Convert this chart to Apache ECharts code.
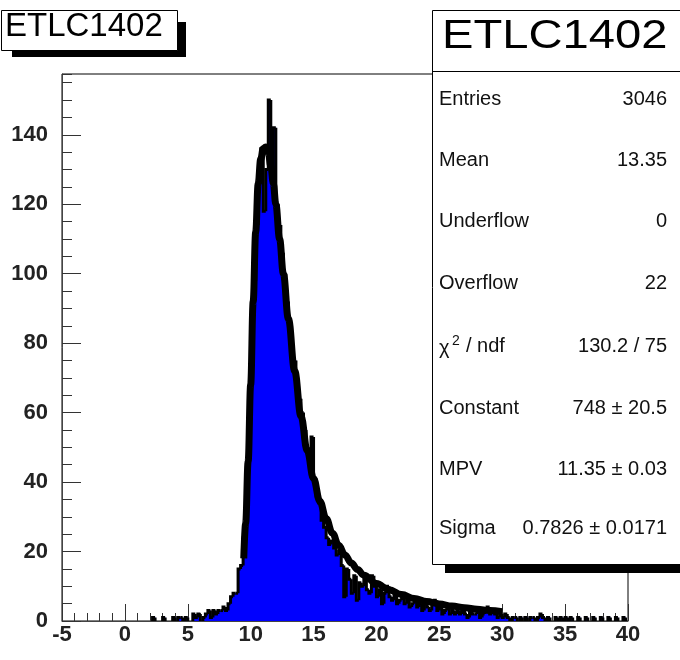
<!DOCTYPE html>
<html>
<head>
<meta charset="utf-8">
<script src="https://cdn.jsdelivr.net/npm/echarts@6/dist/echarts.min.js"></script>
<style>
  html, body { margin: 0; padding: 0; background: #fff; }
  #chart { width: 680px; height: 660px; }
</style>
</head>
<body>
<div id="chart"></div>
<script>
// Histogram: bins of width 0.2 from -5 to 40
const binMin = -5;
const binWidth = 0.2;
const counts = [
  0,0,0,0,0, 0,0,0,0,0,
  0,0,0,0,0, 0,0,0,0,0,
  0,0,0,0,0, 0,0,0,0,0,
  0,0,0,0,0, 0,1,0,0,0,
  1,0,0,0,1, 0,1,1,0,1,
  0,0,2,1,2, 0,1,2,3,1,
  3,2,3,3,4, 3,5,7,8,8,
  15,16,24,38,58, 80,98,114,126,136,
  118,130,150,128,142, 120,114,106,100,92,
  86,78,75,68,64, 60,55,50,46,53,
  41,36,34,29,27, 24,22,23,21,19,
  20,16,7,15,12, 8,13,6,11,10,
  12,9,8,13,10, 7,9,5,8,10,
  7,6,8,5,6, 7,5,6,4,5,
  6,4,5,3,5, 4,3,5,6,3,
  4,2,3,4,2, 3,2,3,2,3,
  2,1,3,2,2, 3,1,2,3,4,
  2,3,2,1,2, 1,2,1,0,1,
  1,0,1,0,1, 0,1,1,0,1,
  2,1,0,1,0, 0,1,0,1,0,
  1,0,1,0,0, 1,0,0,1,0,
  0,1,0,0,1, 0,0,1,0,0,
  1,0,0,1,0
];

// Landau fit curve
const fitX = [9.45, 9.6, 9.8, 10.0, 10.2, 10.4, 10.6, 10.8, 11.0, 11.2, 11.4, 11.6, 11.8, 12.0, 12.3, 12.6, 13.0, 13.5, 14.0, 14.5, 15.0, 15.5, 16.0, 16.5, 17.0, 17.5, 18.0, 18.5, 19.0, 20.0, 21.0, 22.0, 23.0, 24.0, 25.0, 26.0, 27.0, 28.0, 29.0, 30.0];
const fitY = [18, 28, 46, 68, 92, 112, 126, 133, 136, 136.5, 135, 131, 126, 120, 110, 100, 87, 72, 59, 49, 41, 34.5, 29.5, 25.3, 21.8, 19, 16.7, 14.8, 13.2, 10.8, 9, 7.6, 6.5, 5.6, 4.9, 4.3, 3.8, 3.4, 3.0, 2.7];

// Axis ticks
const xMin = -5, xMax = 40, xInterval = 5;
const yMin = 0, yMax = 157.5, yInterval = 20, yMinorInterval = 5;

// Stats box
const histName = 'ETLC1402';
const statLabels = ['Entries', 'Mean', 'Underflow', 'Overflow', 'CHI', 'Constant', 'MPV', 'Sigma'];
const statValues = ['3046', '13.35', '0', '22', '130.2 / 75', '748 ± 20.5', '11.35 ± 0.03', '0.7826 ± 0.0171'];

const histData = counts.map((c, i) => [binMin + i * binWidth, c, i > 0 ? counts[i - 1] : 0]);
const fitData = fitX.map((x, i) => [x, fitY[i]]);

const FONT = '"Liberation Sans", Arial, sans-serif';
const chart = echarts.init(document.getElementById('chart'), null, { renderer: 'canvas' });

const statRowsY = [99, 160, 221, 283, 346, 408, 469, 528];
const TXT = '#111';
const graphics = [];
// title box (top-left)
graphics.push({ type: 'rect', z: 100, shape: { x: 12, y: 50, width: 174, height: 7 }, style: { fill: '#000' } });
graphics.push({ type: 'rect', z: 100, shape: { x: 177, y: 22, width: 9, height: 35 }, style: { fill: '#000' } });
graphics.push({ type: 'rect', z: 101, shape: { x: 1.5, y: 10.5, width: 176, height: 40 }, style: { fill: '#fff', stroke: '#000', lineWidth: 1 } });
graphics.push({ type: 'text', z: 102, x: 5, y: 27, style: { text: histName, font: '33px ' + FONT, fill: '#000', align: 'left', verticalAlign: 'middle', textAlign: 'left', textVerticalAlign: 'middle' } });
// stats box
graphics.push({ type: 'rect', z: 100, shape: { x: 445, y: 565, width: 245, height: 8 }, style: { fill: '#000' } });
graphics.push({ type: 'rect', z: 101, shape: { x: 432.5, y: 10.5, width: 260, height: 554 }, style: { fill: '#fff', stroke: '#000', lineWidth: 1 } });
graphics.push({ type: 'line', z: 102, shape: { x1: 432.5, y1: 71.5, x2: 680, y2: 71.5 }, style: { stroke: '#000', lineWidth: 1 } });
graphics.push({ type: 'text', z: 102, x: 442, y: 37, scaleX: 1.15, style: { text: histName, font: '41px ' + FONT, fill: '#000', align: 'left', verticalAlign: 'middle', textAlign: 'left', textVerticalAlign: 'middle' } });
statLabels.forEach((lab, i) => {
  const y = statRowsY[i];
  if (lab === 'CHI') {
    graphics.push({ type: 'text', z: 102, x: 439, y: y + 2, style: { text: 'χ', font: '20px ' + FONT, fill: TXT, align: 'left', verticalAlign: 'middle', textAlign: 'left', textVerticalAlign: 'middle' } });
    graphics.push({ type: 'text', z: 102, x: 452, y: y - 5, style: { text: '2', font: '14px ' + FONT, fill: TXT, align: 'left', verticalAlign: 'middle', textAlign: 'left', textVerticalAlign: 'middle' } });
    graphics.push({ type: 'text', z: 102, x: 466, y: y, style: { text: '/ ndf', font: '20px ' + FONT, fill: TXT, align: 'left', verticalAlign: 'middle', textAlign: 'left', textVerticalAlign: 'middle' } });
  } else {
    graphics.push({ type: 'text', z: 102, x: 439, y: y, style: { text: lab, font: '20px ' + FONT, fill: TXT, align: 'left', verticalAlign: 'middle', textAlign: 'left', textVerticalAlign: 'middle' } });
  }
  graphics.push({ type: 'text', z: 102, x: 667, y: y, style: { text: statValues[i], font: '20px ' + FONT, fill: TXT, align: 'right', verticalAlign: 'middle', textAlign: 'right', textVerticalAlign: 'middle' } });
});

const gridRect = { left: 62, top: 74, width: 566, height: 547 };
const axisColor = '#444';
const labelStyle = { fontSize: 22, fontFamily: FONT, fontWeight: 'bold', color: '#222' };

const option = {
  animation: false,
  backgroundColor: '#fff',
  grid: [
    Object.assign({ show: true, borderColor: '#000', borderWidth: 1, backgroundColor: 'transparent', containLabel: false, outerBoundsMode: 'none' }, gridRect),
    Object.assign({ show: false, containLabel: false, outerBoundsMode: 'none' }, gridRect)
  ],
  xAxis: [
    {
      gridIndex: 0, type: 'value', min: xMin, max: xMax, interval: xInterval,
      axisLine: { show: true, onZero: false, lineStyle: { color: axisColor, width: 1 } },
      axisTick: { show: true, inside: true, length: 17, lineStyle: { color: '#333', width: 1 } },
      minorTick: { show: true, splitNumber: 5, length: 8, lineStyle: { color: '#333', width: 1 } },
      axisLabel: Object.assign({ margin: 3 }, labelStyle),
      splitLine: { show: false }
    },
    { gridIndex: 1, type: 'value', min: xMin, max: xMax, show: false }
  ],
  yAxis: [
    {
      gridIndex: 0, type: 'value', min: yMin, max: yMax, interval: yInterval,
      axisLine: { show: true, onZero: false, lineStyle: { color: axisColor, width: 1 } },
      axisTick: { show: true, inside: true, length: 19, lineStyle: { color: '#333', width: 1 } },
      axisLabel: Object.assign({ margin: 14, showMaxLabel: false }, labelStyle),
      splitLine: { show: false }
    },
    {
      gridIndex: 1, type: 'value', min: yMin, max: yMax, interval: yMinorInterval, position: 'left',
      axisLine: { show: false, onZero: false },
      axisTick: { show: true, inside: true, length: 10, lineStyle: { color: '#333', width: 1 } },
      axisLabel: { show: false },
      splitLine: { show: false }
    }
  ],
  series: [
    {
      type: 'custom', xAxisIndex: 0, yAxisIndex: 0, clip: true, z: 2,
      data: histData,
      renderItem: function (params, api) {
        const x0 = api.value(0), v = api.value(1);
        if (!(v > 0)) return null;
        const p0 = api.coord([x0, 0]);
        const p1 = api.coord([x0 + binWidth, v]);
        return { type: 'rect', shape: { x: p0[0] - 0.5, y: p1[1], width: p1[0] - p0[0] + 1, height: p0[1] - p1[1] }, style: { fill: '#0000ff' } };
      }
    },
    {
      type: 'custom', xAxisIndex: 0, yAxisIndex: 0, clip: true, z: 3,
      data: histData,
      renderItem: function (params, api) {
        const x0 = api.value(0), v = api.value(1), vp = api.value(2);
        if (!(v > 0) && !(vp > 0)) return null;
        const a = api.coord([x0, vp]);
        const b = api.coord([x0, v]);
        const c = api.coord([x0 + binWidth, v]);
        return { type: 'polyline', shape: { points: v > 0 ? [a, b, c] : [a, b] }, style: { stroke: '#000', lineWidth: 3, fill: null } };
      }
    },
    {
      type: 'line', xAxisIndex: 0, yAxisIndex: 0, z: 4,
      data: fitData, smooth: 0.4, smoothMonotone: 'x', symbol: 'none',
      lineStyle: { color: '#000', width: 7 }
    }
  ],
  graphic: { elements: graphics }
};
chart.setOption(option);
</script>
</body>
</html>
